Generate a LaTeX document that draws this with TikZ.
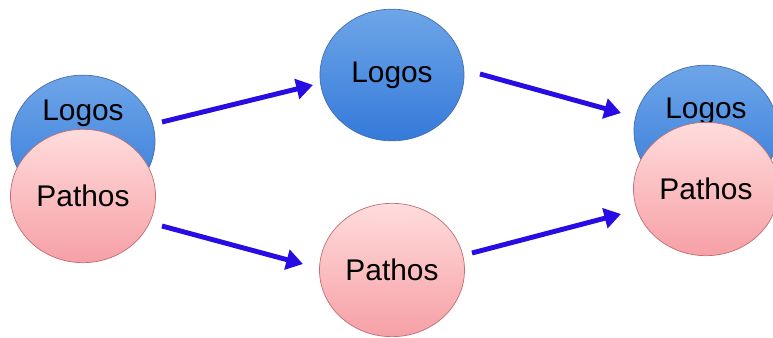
\documentclass[tikz,border=0pt]{standalone}
\usepackage{fontspec}
\setmainfont{Liberation Sans}
\usetikzlibrary{arrows.meta, shapes.geometric}

\definecolor{logosTop}{RGB}{110,165,232}
\definecolor{logosBot}{RGB}{52,122,218}
\definecolor{logosLine}{RGB}{70,110,170}
\definecolor{pathosTop}{RGB}{255,220,220}
\definecolor{pathosBot}{RGB}{246,160,166}
\definecolor{pathosLine}{RGB}{190,110,112}
\definecolor{arrowBlue}{RGB}{40,12,228}

\begin{document}
\begin{tikzpicture}[x=0.03cm, y=-0.03cm,
    logos/.style={draw=logosLine, line width=0.6pt, ellipse, top color=logosTop, bottom color=logosBot,
      minimum width=4.32cm, minimum height=3.95cm, inner sep=0pt},
    pathos/.style={draw=pathosLine, line width=0.6pt, ellipse, top color=pathosTop, bottom color=pathosBot,
      minimum width=4.35cm, minimum height=4.0cm, inner sep=0pt},
    word/.style={font=\fontsize{25.5}{30}\selectfont, inner sep=0pt},
    flow/.style={arrowBlue, line width=4.2pt, -{Triangle[length=0.5cm, width=0.6cm]}}]
  \useasboundingbox (0,0) rectangle (773,338);

  % left: both together
  \node[logos] (lLogos) at (83,141) {};
  \node[word] (lLogosT) at (83,113) {Logos};
  \node[pathos, word] (lPathos) at (83,196) {Pathos};

  % middle: split apart
  \node[logos, word] (mLogos) at (392,75) {Logos};
  \node[pathos, word] (mPathos) at (392,270) {Pathos};

  % right: together again
  \node[logos] (rLogos) at (706,131) {};
  \node[word] (rLogosT) at (706,111) {Logos};
  \node[pathos, word] (rPathos) at (706,189) {Pathos};

  % arrow ends
  \coordinate (a1) at (162,122);
  \coordinate (b1) at (313,85);
  \coordinate (a2) at (162,226);
  \coordinate (b2) at (303,264);
  \coordinate (a3) at (480,74);
  \coordinate (b3) at (621,113);
  \coordinate (a4) at (472,253);
  \coordinate (b4) at (621,214);

  \draw[flow] (a1) -- (b1);
  \draw[flow] (a2) -- (b2);
  \draw[flow] (a3) -- (b3);
  \draw[flow] (a4) -- (b4);
\end{tikzpicture}
\end{document}
